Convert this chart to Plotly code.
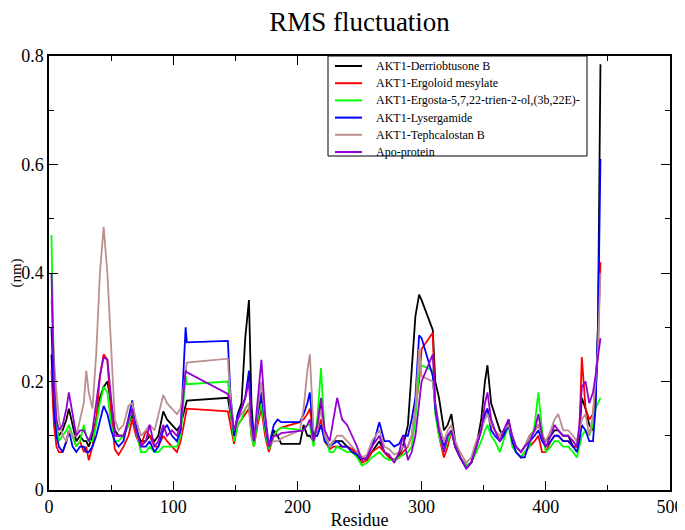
import plotly.graph_objects as go

residue = [2, 4, 6, 8, 11, 14, 16, 19, 22, 25, 28, 30, 32, 35, 38, 41, 44, 47, 50, 53,
           56, 60, 64, 67, 70, 74, 78, 81, 85, 88, 92, 95, 99, 103, 106, 109, 110, 111, 144, 146,
           149, 152, 155, 158, 161, 163, 165, 168, 171, 174, 177, 181, 184, 187, 202, 205, 208, 210, 213, 216,
           219, 222, 226, 229, 232, 236, 240, 244, 248, 252, 256, 260, 263, 266, 270, 274, 278, 282, 285, 289,
           292, 295, 298, 300, 309, 311, 314, 318, 321, 324, 327, 331, 336, 340, 344, 348, 351, 353, 356, 359,
           363, 366, 370, 373, 376, 380, 383, 387, 391, 394, 397, 400, 404, 407, 410, 414, 418, 422, 425, 427,
           429, 432, 435, 438, 440, 442, 443, 444]

derriobtusone = [0.25, 0.14, 0.11, 0.10, 0.11, 0.13, 0.15, 0.12, 0.09, 0.10, 0.09, 0.09, 0.08, 0.10, 0.13, 0.17, 0.19, 0.20, 0.16, 0.11,
                 0.10, 0.10, 0.12, 0.14, 0.11, 0.09, 0.09, 0.10, 0.09, 0.10, 0.145, 0.13, 0.12, 0.11, 0.12, 0.15, 0.16, 0.165, 0.17, 0.14,
                 0.10, 0.14, 0.16, 0.28, 0.35, 0.16, 0.09, 0.13, 0.17, 0.11, 0.08, 0.11, 0.10, 0.085, 0.085, 0.12, 0.10, 0.10, 0.09, 0.12,
                 0.16, 0.10, 0.08, 0.09, 0.09, 0.09, 0.08, 0.075, 0.07, 0.06, 0.055, 0.07, 0.08, 0.09, 0.07, 0.06, 0.055, 0.065, 0.08, 0.12,
                 0.22, 0.32, 0.36, 0.35, 0.295, 0.20, 0.17, 0.11, 0.12, 0.14, 0.09, 0.06, 0.04, 0.05, 0.08, 0.13, 0.20, 0.23, 0.16, 0.14,
                 0.11, 0.10, 0.13, 0.09, 0.08, 0.07, 0.08, 0.10, 0.11, 0.12, 0.10, 0.09, 0.10, 0.11, 0.11, 0.10, 0.10, 0.08, 0.08, 0.10,
                 0.17, 0.15, 0.12, 0.11, 0.16, 0.30, 0.55, 0.785]

ergoloid = [0.22, 0.12, 0.08, 0.07, 0.07, 0.09, 0.11, 0.10, 0.08, 0.09, 0.07, 0.08, 0.055, 0.08, 0.13, 0.21, 0.25, 0.24, 0.14, 0.075,
            0.065, 0.08, 0.10, 0.13, 0.10, 0.08, 0.11, 0.10, 0.08, 0.08, 0.10, 0.09, 0.08, 0.07, 0.09, 0.13, 0.14, 0.15, 0.145, 0.12,
            0.085, 0.12, 0.13, 0.14, 0.15, 0.10, 0.08, 0.12, 0.15, 0.10, 0.07, 0.10, 0.11, 0.115, 0.125, 0.13, 0.14, 0.15, 0.10, 0.11,
            0.13, 0.09, 0.075, 0.08, 0.08, 0.08, 0.08, 0.075, 0.065, 0.05, 0.055, 0.07, 0.075, 0.08, 0.07, 0.06, 0.055, 0.06, 0.07, 0.08,
            0.10, 0.15, 0.20, 0.26, 0.29, 0.15, 0.10, 0.06, 0.08, 0.11, 0.08, 0.06, 0.045, 0.05, 0.08, 0.11, 0.14, 0.15, 0.12, 0.11,
            0.09, 0.10, 0.12, 0.09, 0.07, 0.06, 0.07, 0.08, 0.09, 0.10, 0.07, 0.07, 0.09, 0.10, 0.10, 0.09, 0.09, 0.08, 0.08, 0.10,
            0.245, 0.15, 0.13, 0.14, 0.19, 0.25, 0.35, 0.42]

ergosta = [0.47, 0.20, 0.12, 0.09, 0.10, 0.11, 0.12, 0.10, 0.08, 0.09, 0.12, 0.10, 0.09, 0.09, 0.12, 0.16, 0.19, 0.18, 0.12, 0.09,
           0.09, 0.10, 0.12, 0.15, 0.11, 0.07, 0.07, 0.08, 0.07, 0.07, 0.08, 0.08, 0.08, 0.08, 0.10, 0.18, 0.21, 0.195, 0.20, 0.15,
           0.09, 0.12, 0.13, 0.15, 0.16, 0.10, 0.08, 0.13, 0.16, 0.11, 0.075, 0.10, 0.11, 0.115, 0.11, 0.11, 0.12, 0.12, 0.08, 0.13,
           0.225, 0.10, 0.07, 0.07, 0.08, 0.075, 0.07, 0.07, 0.06, 0.045, 0.05, 0.06, 0.065, 0.07, 0.06, 0.055, 0.055, 0.06, 0.065, 0.07,
           0.08, 0.13, 0.22, 0.23, 0.22, 0.14, 0.10, 0.07, 0.09, 0.11, 0.08, 0.06, 0.045, 0.05, 0.07, 0.09, 0.11, 0.12, 0.10, 0.09,
           0.07, 0.09, 0.12, 0.08, 0.07, 0.06, 0.07, 0.08, 0.12, 0.18, 0.11, 0.07, 0.08, 0.09, 0.09, 0.08, 0.08, 0.07, 0.06, 0.08,
           0.10, 0.11, 0.10, 0.12, 0.15, 0.16, 0.165, 0.17]

lysergamide = [0.30, 0.15, 0.10, 0.08, 0.07, 0.09, 0.11, 0.08, 0.07, 0.08, 0.08, 0.07, 0.07, 0.08, 0.10, 0.13, 0.155, 0.14, 0.11, 0.09,
               0.08, 0.09, 0.13, 0.165, 0.12, 0.08, 0.08, 0.09, 0.07, 0.08, 0.11, 0.12, 0.10, 0.09, 0.11, 0.27, 0.30, 0.272, 0.275, 0.18,
               0.10, 0.14, 0.15, 0.17, 0.22, 0.13, 0.09, 0.14, 0.18, 0.12, 0.08, 0.12, 0.13, 0.125, 0.125, 0.14, 0.16, 0.18, 0.10, 0.10,
               0.12, 0.09, 0.08, 0.085, 0.09, 0.08, 0.08, 0.07, 0.065, 0.055, 0.06, 0.08, 0.10, 0.125, 0.09, 0.09, 0.08, 0.085, 0.10, 0.10,
               0.13, 0.17, 0.285, 0.28, 0.21, 0.15, 0.11, 0.08, 0.10, 0.11, 0.08, 0.06, 0.04, 0.05, 0.08, 0.11, 0.14, 0.15, 0.11, 0.10,
               0.09, 0.10, 0.12, 0.09, 0.07, 0.06, 0.06, 0.09, 0.10, 0.11, 0.09, 0.08, 0.09, 0.10, 0.10, 0.09, 0.09, 0.08, 0.07, 0.09,
               0.12, 0.11, 0.09, 0.09, 0.15, 0.30, 0.45, 0.61]

tephcalostan = [0.35, 0.24, 0.18, 0.13, 0.10, 0.09, 0.11, 0.10, 0.10, 0.13, 0.16, 0.22, 0.18, 0.15, 0.25, 0.40, 0.485, 0.40, 0.25, 0.13,
                0.11, 0.12, 0.155, 0.16, 0.13, 0.10, 0.11, 0.12, 0.11, 0.14, 0.175, 0.16, 0.15, 0.14, 0.15, 0.20, 0.22, 0.235, 0.242, 0.17,
                0.11, 0.13, 0.14, 0.15, 0.16, 0.11, 0.09, 0.15, 0.20, 0.13, 0.085, 0.09, 0.09, 0.095, 0.11, 0.15, 0.22, 0.25, 0.11, 0.11,
                0.15, 0.10, 0.08, 0.09, 0.10, 0.10, 0.09, 0.08, 0.07, 0.06, 0.065, 0.09, 0.10, 0.11, 0.08, 0.075, 0.065, 0.07, 0.08, 0.08,
                0.10, 0.15, 0.26, 0.21, 0.20, 0.16, 0.12, 0.09, 0.11, 0.12, 0.09, 0.07, 0.05, 0.06, 0.09, 0.11, 0.13, 0.14, 0.12, 0.11,
                0.10, 0.11, 0.12, 0.10, 0.08, 0.07, 0.08, 0.10, 0.11, 0.12, 0.10, 0.09, 0.11, 0.13, 0.14, 0.11, 0.11, 0.10, 0.09, 0.11,
                0.13, 0.14, 0.10, 0.14, 0.20, 0.26, 0.33, 0.40]

apo_protein = [0.40, 0.20, 0.13, 0.11, 0.12, 0.15, 0.18, 0.14, 0.10, 0.11, 0.11, 0.10, 0.09, 0.11, 0.16, 0.21, 0.245, 0.24, 0.17, 0.10,
               0.10, 0.10, 0.13, 0.15, 0.11, 0.08, 0.09, 0.12, 0.08, 0.09, 0.12, 0.10, 0.11, 0.10, 0.12, 0.20, 0.22, 0.217, 0.177, 0.16,
               0.11, 0.13, 0.15, 0.17, 0.20, 0.12, 0.09, 0.17, 0.24, 0.14, 0.08, 0.10, 0.10, 0.105, 0.11, 0.11, 0.12, 0.13, 0.09, 0.12,
               0.17, 0.11, 0.09, 0.13, 0.17, 0.13, 0.12, 0.10, 0.08, 0.055, 0.06, 0.08, 0.09, 0.10, 0.07, 0.065, 0.05, 0.07, 0.10, 0.055,
               0.07, 0.10, 0.16, 0.20, 0.25, 0.16, 0.11, 0.07, 0.10, 0.11, 0.08, 0.06, 0.04, 0.05, 0.08, 0.11, 0.16, 0.18, 0.13, 0.11,
               0.09, 0.11, 0.13, 0.10, 0.08, 0.07, 0.08, 0.09, 0.11, 0.14, 0.10, 0.08, 0.10, 0.12, 0.11, 0.10, 0.10, 0.09, 0.08, 0.12,
               0.19, 0.20, 0.16, 0.18, 0.21, 0.25, 0.27, 0.28]

series_names = ["AKT1-Derriobtusone B", "AKT1-Ergoloid mesylate",
                "AKT1-Ergosta-5,7,22-trien-2-ol,(3b,22E)-", "AKT1-Lysergamide",
                "AKT1-Tephcalostan B", "Apo-protein"]
series_values = [derriobtusone, ergoloid, ergosta, lysergamide, tephcalostan, apo_protein]
series_colors = ["#000000", "#ff0000", "#00ff00", "#0000ff", "#bc8f8f", "#9400d3"]

FONT = "Liberation Serif"

# page has an 8px body margin: figure placed so plot area spans page x 49-670, y 56-490
W, H = 677, 522
ML, MR, MT, MB = 41, 15, 48, 40
PW, PH = W - ML - MR, H - MT - MB

fig = go.Figure()
for name, vals, col in zip(series_names, series_values, series_colors):
    fig.add_trace(go.Scatter(x=residue, y=vals, mode="lines", name=name,
                             line=dict(color=col, width=1.8), showlegend=False))

# hand-built legend box (Grace-style, compact rows)
def px_x(px):
    return (px - 49) / PW

def px_y(py):
    return (490 - py) / PH

shapes = [dict(type="rect", xref="paper", yref="paper",
               x0=px_x(328), x1=px_x(587), y0=px_y(156), y1=px_y(56),
               line=dict(color="black", width=1), fillcolor="white", layer="above")]
annotations = []
for i, (name, col) in enumerate(zip(series_names, series_colors)):
    row_y = px_y(66 + 17.2 * i)
    shapes.append(dict(type="line", xref="paper", yref="paper",
                       x0=px_x(335), x1=px_x(362), y0=row_y, y1=row_y,
                       line=dict(color=col, width=2), layer="above"))
    annotations.append(dict(xref="paper", yref="paper", x=px_x(374), y=row_y,
                            text=name, showarrow=False, xanchor="left", yanchor="middle",
                            font=dict(family=FONT, size=12, color="black")))

axis_common = dict(showline=True, linecolor="black", linewidth=1.5, mirror="allticks",
                   ticks="inside", ticklen=9, tickwidth=1.2, tickcolor="black",
                   showgrid=False, zeroline=False, automargin=False,
                   tickfont=dict(family=FONT, size=18, color="black"))

fig.update_layout(
    width=W, height=H,
    paper_bgcolor="white", plot_bgcolor="white",
    margin=dict(l=ML, r=MR, t=MT, b=MB),
    title=dict(text="RMS fluctuation", xref="paper", x=0.5, xanchor="center",
               yref="container", y=1 - 14 / H, yanchor="middle",
               font=dict(family=FONT, size=27, color="black")),
    font=dict(family=FONT, color="black"),
    xaxis=dict(range=[0, 500], dtick=100, tick0=0,
               minor=dict(dtick=50, ticks="inside", ticklen=5, tickcolor="black"),
               title=dict(text="Residue", font=dict(family=FONT, size=18), standoff=2),
               **axis_common),
    yaxis=dict(range=[0, 0.8], dtick=0.2, tick0=0,
               minor=dict(dtick=0.1, ticks="inside", ticklen=5, tickcolor="black"),
               title=dict(text="(nm)", font=dict(family=FONT, size=15), standoff=9),
               **axis_common),
    shapes=shapes,
    annotations=annotations,
    showlegend=False,
)

fig.write_html("out.html")
